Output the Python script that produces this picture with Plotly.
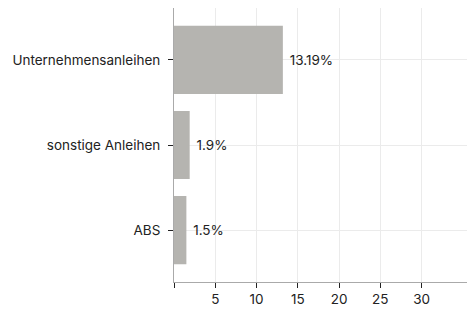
import plotly.graph_objects as go

categories = ["Unternehmensanleihen", "sonstige Anleihen", "ABS"]
values = [13.19, 1.9, 1.5]
labels = ["13.19%", "1.9%", "1.5%"]
x_ticks = [0, 5, 10, 15, 20, 25, 30]
x_ticktext = ["", "5", "10", "15", "20", "25", "30"]

fig = go.Figure(go.Bar(
    y=categories, x=values, orientation="h",
    marker=dict(color="#b5b4b0", line=dict(width=0)),
    width=0.8,
    text=[" " + t for t in labels], textposition="outside",
    textfont=dict(size=13.5, color="#222222", family="Inter"),
    cliponaxis=False,
    hoverinfo="skip",
))

fig.update_layout(
    width=467, height=311,
    margin=dict(l=174, r=0, t=8, b=29),
    plot_bgcolor="white", paper_bgcolor="white",
    font=dict(family="Inter", size=13.5, color="#222222"),
    showlegend=False,
    bargap=0.2,
)
fig.update_xaxes(
    range=[0, 35.5], tickvals=x_ticks, ticktext=x_ticktext,
    showgrid=True, gridcolor="#ebebeb", gridwidth=1,
    showline=True, linecolor="#aaaaaa", linewidth=1,
    ticks="outside", ticklen=5, tickcolor="#222222", zeroline=False,
    automargin=False,
)
fig.update_yaxes(
    categoryorder="array", categoryarray=categories,
    range=[2.61, -0.61],
    showgrid=True, gridcolor="#ebebeb", gridwidth=1,
    showline=True, linecolor="#aaaaaa", linewidth=1,
    ticks="outside", ticklen=5, tickcolor="#222222",
    ticklabelstandoff=5,
    automargin=False,
)

fig.write_html("out.html", config={"displayModeBar": False},
               post_script="document.body.style.margin='0';")
